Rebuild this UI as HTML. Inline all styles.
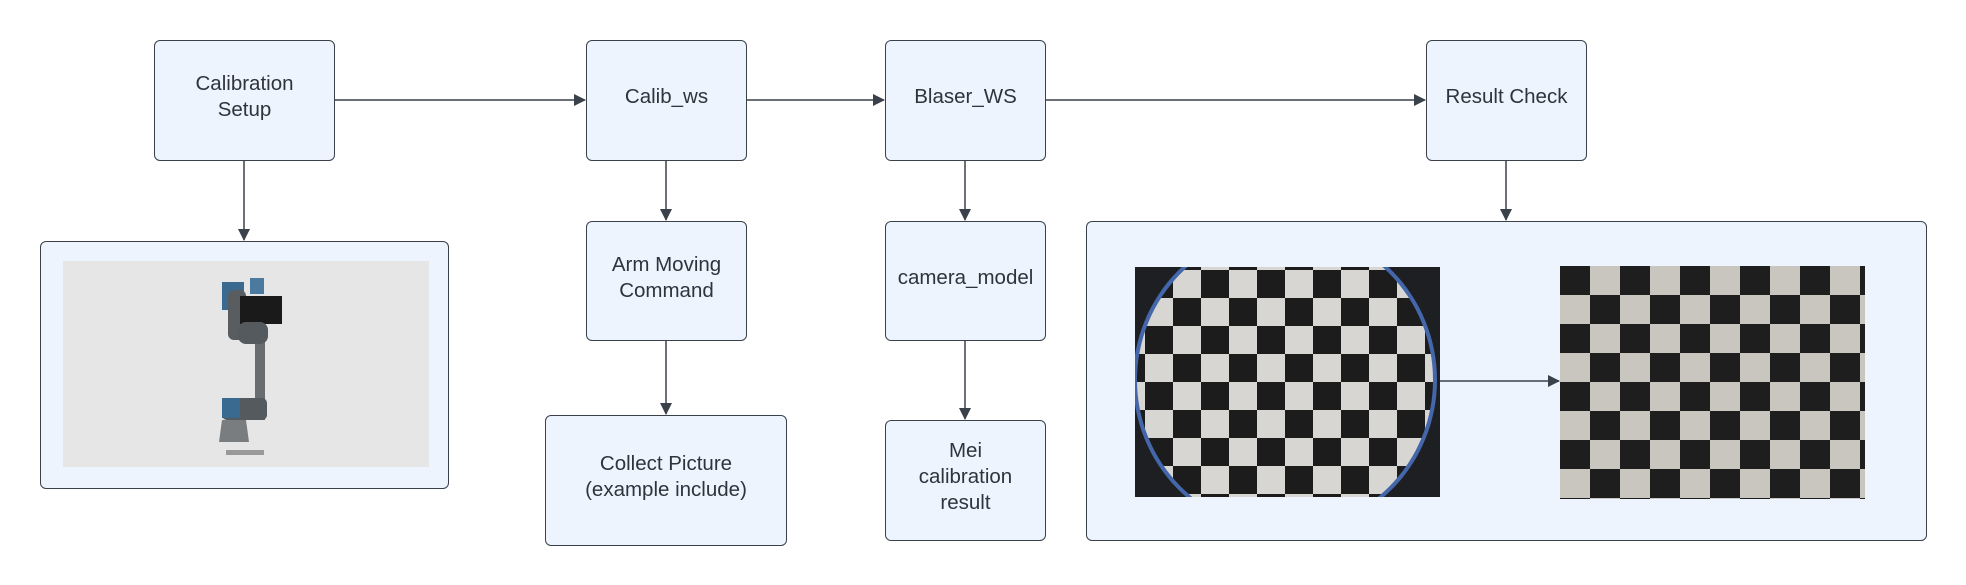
<!DOCTYPE html>
<html><head><meta charset="utf-8"><style>
body{margin:0;width:1966px;height:585px;background:#fff;overflow:hidden;font-family:"Liberation Sans",sans-serif}
.b{position:absolute;background:#edf4fe;border:1.5px solid #3a414a;border-radius:6px;box-sizing:border-box;display:flex;align-items:center;justify-content:center;text-align:center;font-size:20.5px;color:#2e343b;line-height:26px;padding-bottom:7px}
svg{position:absolute;left:0;top:0}
</style></head><body>
<div class="b" style="left:154px;top:40px;width:181px;height:121px">Calibration<br>Setup</div>
<div class="b" style="left:586px;top:40px;width:161px;height:121px">Calib_ws</div>
<div class="b" style="left:885px;top:40px;width:161px;height:121px">Blaser_WS</div>
<div class="b" style="left:1426px;top:40px;width:161px;height:121px">Result Check</div>
<div class="b" style="left:40px;top:241px;width:409px;height:248px"></div>
<div class="b" style="left:586px;top:221px;width:161px;height:120px">Arm Moving<br>Command</div>
<div class="b" style="left:545px;top:415px;width:242px;height:131px">Collect Picture<br>(example include)</div>
<div class="b" style="left:885px;top:221px;width:161px;height:120px">camera_model</div>
<div class="b" style="left:885px;top:420px;width:161px;height:121px">Mei<br>calibration<br>result</div>
<div class="b" style="left:1086px;top:221px;width:841px;height:320px"></div>
<svg width="1966" height="585">
<defs>
<marker id="a" markerWidth="12" markerHeight="12" refX="11" refY="6" orient="auto" markerUnits="userSpaceOnUse"><path d="M0,0 L12,6 L0,12z" fill="#3a414a"/></marker>
<pattern id="c" width="56" height="56" patternUnits="userSpaceOnUse" x="1145" y="270"><rect width="56" height="56" fill="#d8d6d2"/><rect width="28" height="28" fill="#1c1c1c"/><rect x="28" y="28" width="28" height="28" fill="#1c1c1c"/></pattern>
<pattern id="d" width="60" height="58" patternUnits="userSpaceOnUse" x="1560" y="266"><rect width="60" height="58" fill="#c9c6c0"/><rect width="30" height="29" fill="#1e1e1e"/><rect x="30" y="29" width="30" height="29" fill="#1e1e1e"/></pattern>
<clipPath id="r"><rect x="1135" y="267" width="305" height="230"/></clipPath>
<clipPath id="e"><ellipse cx="1285" cy="380" rx="148" ry="150"/></clipPath>
</defs>
<g stroke="#3a414a" stroke-width="1.5" fill="none" marker-end="url(#a)">
<line x1="335" y1="100" x2="585" y2="100"/>
<line x1="747" y1="100" x2="884" y2="100"/>
<line x1="1046" y1="100" x2="1425" y2="100"/>
<line x1="244" y1="161" x2="244" y2="240"/>
<line x1="666" y1="161" x2="666" y2="220"/>
<line x1="666" y1="341" x2="666" y2="414"/>
<line x1="965" y1="161" x2="965" y2="220"/>
<line x1="965" y1="341" x2="965" y2="419"/>
<line x1="1506" y1="161" x2="1506" y2="220"/>
<line x1="1440" y1="381" x2="1559" y2="381"/>
</g>
<rect x="63" y="261" width="366" height="206" fill="#e6e6e6"/>
<rect x="255" y="320" width="10" height="100" fill="#6a6d70"/>
<rect x="222" y="282" width="22" height="28" fill="#3a6a90"/>
<rect x="228" y="290" width="18" height="50" rx="6" fill="#5a5d60"/>
<rect x="240" y="296" width="42" height="28" fill="#1a1a1a"/>
<rect x="250" y="278" width="14" height="16" fill="#4a7aa0"/>
<rect x="238" y="322" width="30" height="22" rx="8" fill="#555a5e"/>
<rect x="222" y="398" width="45" height="22" rx="5" fill="#555a5e"/>
<rect x="222" y="398" width="18" height="20" fill="#3a6a90"/>
<path d="M222,420 h24 l3,22 h-30z" fill="#7a7d80"/>
<rect x="226" y="450" width="38" height="5" fill="#999"/>
<rect x="1135" y="267" width="305" height="230" fill="#1e1f22"/>
<g clip-path="url(#r)">
<ellipse cx="1285" cy="380" rx="152" ry="154" fill="#4466aa"/>
<rect x="1135" y="225" width="305" height="310" fill="url(#c)" clip-path="url(#e)"/>
</g>
<rect x="1560" y="266" width="305" height="233" fill="url(#d)"/>
</svg>
</body></html>
